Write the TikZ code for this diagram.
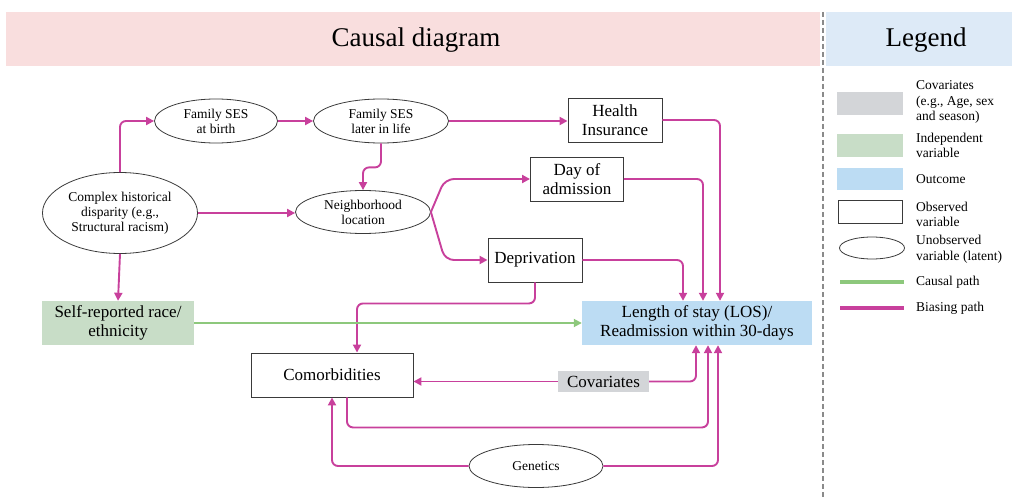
\documentclass[tikz,border=0pt]{standalone}
\usepackage{fontspec}
\setmainfont{Liberation Serif}
\usepackage{tikz}
\usetikzlibrary{shapes.geometric,arrows.meta}
\definecolor{bias}{HTML}{C8409C}
\definecolor{causal}{HTML}{8DC87C}
\definecolor{indep}{HTML}{C8DDC7}
\definecolor{outc}{HTML}{BCDCF3}
\definecolor{covar}{HTML}{D3D5D8}
\definecolor{linegray}{HTML}{3A3A3A}
\definecolor{dashgray}{HTML}{8A8A8A}
\definecolor{headpink}{HTML}{F9DEDE}
\definecolor{headblue}{HTML}{DDEAF7}
\tikzset{
  latent/.style={ellipse, draw=linegray, line width=0.8pt, inner sep=0pt, align=center, font=\fontsize{13.5}{15}\selectfont},
  obs/.style={rectangle, draw=linegray, line width=0.9pt, inner sep=0pt, align=center, font=\fontsize{17}{19}\selectfont},
  swatch/.style={rectangle, inner sep=0pt, align=center, font=\fontsize{17}{19}\selectfont},
  biasarr/.style={draw=bias, line width=1.9pt, rounded corners=6pt, -{Triangle[width=8pt,length=8pt]}},
  causarr/.style={draw=causal, line width=1.8pt, -{Triangle[width=8pt,length=8pt]}},
  legtxt/.style={anchor=west, align=left, inner sep=0pt, font=\fontsize{13.5}{15.5}\selectfont},
  headtxt/.style={font=\fontsize{27}{30}\selectfont}
}

\begin{document}
\begin{tikzpicture}[x=1pt,y=-1pt]
  \useasboundingbox (0,0) rectangle (1012,500);

  % header bars
  \fill[headpink] (6,12) rectangle (820,66);
  \fill[headblue] (826,12) rectangle (1012,66);
  \draw[dashgray, line width=1.2pt, dash pattern=on 5pt off 3pt] (823,12) -- (823,500);
  \node[headtxt] (title) at (416,40) {Causal diagram};
  \node[headtxt] (legtitle) at (926,40) {Legend};

  % latent variables
  \node[latent, minimum width=155pt, minimum height=81pt] (cplx) at (120,213) {Complex historical\\disparity (e.g.,\\Structural racism)};
  \node[latent, minimum width=123pt, minimum height=44pt] (fsb) at (216,121) {Family SES\\at birth};
  \node[latent, minimum width=135pt, minimum height=44pt] (fsl) at (381,121) {Family SES\\later in life};
  \node[latent, minimum width=135pt, minimum height=43pt] (nbh) at (363,212) {Neighborhood\\location};
  \node[latent, minimum width=134pt, minimum height=43pt] (gen) at (536,466) {Genetics};

  % observed variables
  \node[obs, minimum width=94pt, minimum height=44pt] (hins) at (615,120) {Health\\Insurance};
  \node[obs, minimum width=93pt, minimum height=44pt] (day) at (577,179) {Day of\\admission};
  \node[obs, minimum width=94pt, minimum height=44pt] (dep) at (535,260) {Deprivation};
  \node[obs, minimum width=162pt, minimum height=44pt] (cmb) at (332,375) {Comorbidities};
  \node[swatch, fill=indep, minimum width=152pt, minimum height=44pt] (race) at (118,323) {Self-reported race/\\ethnicity};
  \node[swatch, fill=outc, minimum width=230pt, minimum height=44pt] (los) at (697,323) {Length of stay (LOS)/\\Readmission within 30-days};
  \node[swatch, fill=covar, minimum width=91pt, minimum height=21pt] (cov) at (603.5,381.5) {Covariates};

  % biasing paths
  \draw[biasarr] (cplx.north) |- (fsb.west);
  \draw[biasarr] (fsb.east) -- (fsl.west);
  \draw[biasarr] (fsl.east) -- (fsl.east -| hins.west);
  \draw[biasarr] (fsl.south) -- ++(0,24) -| (nbh.north);
  \draw[biasarr] (cplx.east) -- (cplx.east -| nbh.west);
  \draw[biasarr] (cplx.south) -- (race.north);
  \draw[biasarr, rounded corners=9pt] (nbh.east) -- ++(14,-33) -- (day.west);
  \draw[biasarr, rounded corners=9pt] (nbh.east) -- ++(14,48) -- (dep.west);
  \draw[biasarr] (hins.east) -| ([xshift=23pt]los.north);
  \draw[biasarr] (day.east) -| ([xshift=6pt]los.north);
  \draw[biasarr] (dep.east) -| ([xshift=-14pt]los.north);
  \draw[biasarr] (dep.south) -- ++(0,21) -| ([xshift=25pt]cmb.north);
  \draw[biasarr] (cov.west) -- (cov.west -| cmb.east);
  \draw[biasarr] (cov.east) -| ([xshift=-1pt]los.south);
  \draw[biasarr] ([xshift=15pt]cmb.south) -- ++(0,30) -| ([xshift=11pt]los.south);
  \draw[biasarr] (gen.west) -| (cmb.south);
  \draw[biasarr] (gen.east) -| ([xshift=21pt]los.south);

  % causal path
  \draw[causarr] (race.east) -- (los.west);

  % legend
  \node[swatch, fill=covar, minimum width=66pt, minimum height=23pt] (lcov) at (870,103.5) {};
  \node[swatch, fill=indep, minimum width=66pt, minimum height=23pt] (lind) at (870,145.5) {};
  \node[swatch, fill=outc, minimum width=66pt, minimum height=22pt] (lout) at (870,179) {};
  \node[obs, minimum width=64pt, minimum height=23pt] (lobs) at (870,211.5) {};
  \node[latent, minimum width=65pt, minimum height=22pt] (llat) at (872,248) {};
  \coordinate (lc1) at (840,282); \coordinate (lc2) at (904,282);
  \coordinate (lb1) at (840,308); \coordinate (lb2) at (904,308);
  \draw[causal, line width=4pt] (lc1) -- (lc2);
  \draw[bias, line width=4pt] (lb1) -- (lb2);

  \node[legtxt] (tcov) at (916,102) {Covariates\\(e.g., Age, sex\\and season)};
  \node[legtxt] (tind) at (916,145.5) {Independent\\variable};
  \node[legtxt] (tout) at (916,179) {Outcome};
  \node[legtxt] (tobs) at (916,214.5) {Observed\\variable};
  \node[legtxt] (tlat) at (916,249.5) {Unobserved\\variable (latent)};
  \node[legtxt] (tcau) at (916,282) {Causal path};
  \node[legtxt] (tbia) at (916,308) {Biasing path};
\end{tikzpicture}
\end{document}
